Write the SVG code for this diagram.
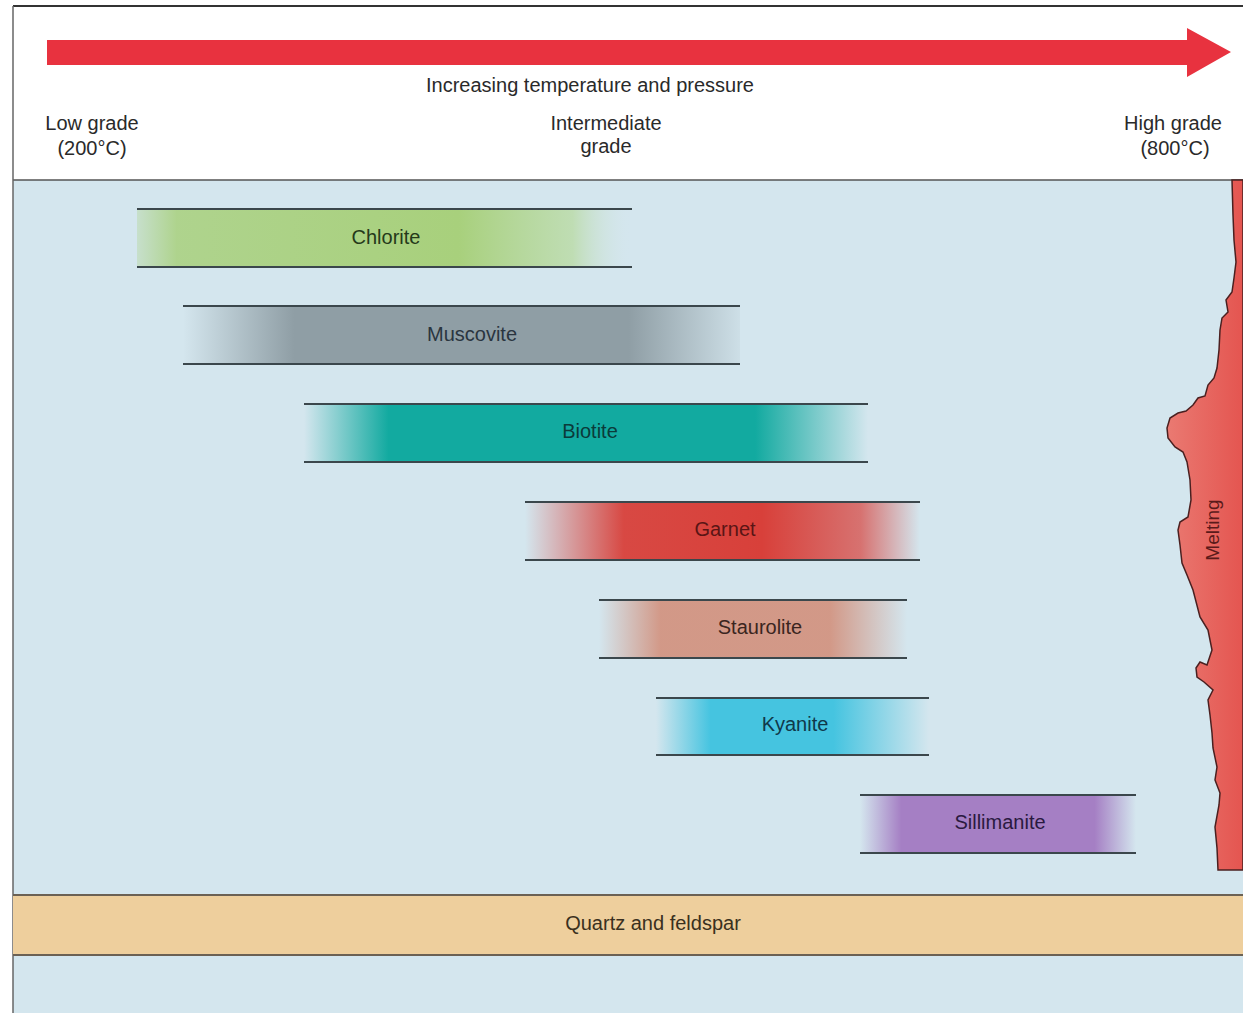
<svg xmlns="http://www.w3.org/2000/svg" width="1243" height="1013" viewBox="0 0 1243 1013">
<style>
text{font-family:"Liberation Sans",Arial,sans-serif;font-size:20px;text-anchor:middle}
.hdr{fill:#2a2a2a}
.edge{stroke:#3b474c;stroke-width:2;fill:none}
.lbl{font-size:20px}
</style>
<defs>
<linearGradient id="gChl" x1="0" x2="1" y1="0" y2="0">
<stop offset="0" stop-color="#a8d07c" stop-opacity="0.3"/>
<stop offset="0.08" stop-color="#a8d07c" stop-opacity="0.85"/>
<stop offset="0.65" stop-color="#a8d07c" stop-opacity="1"/>
<stop offset="0.88" stop-color="#b6d99a" stop-opacity="0.7"/>
<stop offset="1" stop-color="#d4e6ee" stop-opacity="0"/>
</linearGradient>
<linearGradient id="gMus" x1="0" x2="1" y1="0" y2="0">
<stop offset="0" stop-color="#8f9ea5" stop-opacity="0"/>
<stop offset="0.2" stop-color="#8f9ea5" stop-opacity="1"/>
<stop offset="0.8" stop-color="#8f9ea5" stop-opacity="1"/>
<stop offset="1" stop-color="#8f9ea5" stop-opacity="0.1"/>
</linearGradient>
<linearGradient id="gBio" x1="0" x2="1" y1="0" y2="0">
<stop offset="0" stop-color="#12aaa0" stop-opacity="0"/>
<stop offset="0.15" stop-color="#12aaa0" stop-opacity="1"/>
<stop offset="0.8" stop-color="#12aaa0" stop-opacity="1"/>
<stop offset="1" stop-color="#12aaa0" stop-opacity="0"/>
</linearGradient>
<linearGradient id="gGar" x1="0" x2="1" y1="0" y2="0">
<stop offset="0" stop-color="#d8403a" stop-opacity="0"/>
<stop offset="0.25" stop-color="#d8403a" stop-opacity="0.95"/>
<stop offset="0.6" stop-color="#d8403a" stop-opacity="1"/>
<stop offset="0.85" stop-color="#d8403a" stop-opacity="0.7"/>
<stop offset="1" stop-color="#d8403a" stop-opacity="0"/>
</linearGradient>
<linearGradient id="gSta" x1="0" x2="1" y1="0" y2="0">
<stop offset="0" stop-color="#d2907c" stop-opacity="0"/>
<stop offset="0.2" stop-color="#d2907c" stop-opacity="0.9"/>
<stop offset="0.75" stop-color="#d2907c" stop-opacity="0.9"/>
<stop offset="1" stop-color="#d2907c" stop-opacity="0"/>
</linearGradient>
<linearGradient id="gKya" x1="0" x2="1" y1="0" y2="0">
<stop offset="0" stop-color="#45c4e0" stop-opacity="0"/>
<stop offset="0.2" stop-color="#45c4e0" stop-opacity="1"/>
<stop offset="0.65" stop-color="#45c4e0" stop-opacity="1"/>
<stop offset="1" stop-color="#45c4e0" stop-opacity="0"/>
</linearGradient>
<linearGradient id="gSil" x1="0" x2="1" y1="0" y2="0">
<stop offset="0" stop-color="#a57fc4" stop-opacity="0"/>
<stop offset="0.15" stop-color="#a57fc4" stop-opacity="1"/>
<stop offset="0.85" stop-color="#a57fc4" stop-opacity="1"/>
<stop offset="1" stop-color="#a57fc4" stop-opacity="0"/>
</linearGradient>
<linearGradient id="gMelt" x1="0" x2="1" y1="0" y2="0">
<stop offset="0" stop-color="#ea7a72"/>
<stop offset="1" stop-color="#e45550"/>
</linearGradient>
</defs>

<!-- background -->
<rect x="0" y="0" width="1243" height="1013" fill="#ffffff"/>
<rect id="field" x="13" y="180" width="1230" height="833" fill="#d4e6ee"/>
<line x1="13" y1="180" x2="1243" y2="180" stroke="#555" stroke-width="1.5"/>
<line x1="13" y1="6" x2="1243" y2="6" stroke="#333" stroke-width="2"/>
<line x1="13" y1="6" x2="13" y2="1013" stroke="#666" stroke-width="1.5"/>

<!-- header -->
<g id="arrow">
<polygon points="47,40 1187,40 1187,28 1231,52 1187,77 1187,65 47,65" fill="#e8323f"/>
</g>
<g id="header-labels" class="hdr">
<text x="590" y="92">Increasing temperature and pressure</text>
<text x="92" y="130">Low grade</text>
<text x="92" y="155">(200°C)</text>
<text x="606" y="130">Intermediate</text>
<text x="606" y="153">grade</text>
<text x="1173" y="130">High grade</text>
<text x="1175" y="155">(800°C)</text>
</g>

<!-- melting -->
<g id="melting">
<path d="M1232,180 L1243,180 L1243,870 L1218,870 L1217,848 L1215,827 L1219,805 L1220,793 L1215,780 L1217,767 L1213,748 L1212,733 L1210,715 L1208,700 L1213,690 L1204,682 L1197,677 L1196,668 L1200,662 L1207,665 L1212,650 L1208,630 L1200,617 L1193,590 L1187,575 L1182,563 L1180,545 L1178,530 L1180,522 L1188,517 L1191,500 L1190,480 L1187,462 L1183,452 L1175,447 L1168,438 L1167,428 L1170,418 L1178,413 L1186,411 L1193,405 L1198,398 L1205,396 L1208,385 L1214,378 L1217,368 L1219,350 L1220,330 L1222,318 L1228,312 L1226,300 L1232,292 L1234,278 L1236,262 L1234,240 L1233,215 Z" fill="url(#gMelt)" stroke="#4a2020" stroke-width="1.5"/>
<text x="1219" y="530" transform="rotate(-90 1219 530)" style="font-size:19px;fill:#5a1a1a">Melting</text>
</g>

<!-- mineral bars -->
<g id="chlorite">
<rect x="137" y="210" width="495" height="57" fill="url(#gChl)"/>
<line class="edge" x1="137" y1="209" x2="632" y2="209"/>
<line class="edge" x1="137" y1="267" x2="632" y2="267"/>
<text class="lbl" x="386" y="244" fill="#25391a">Chlorite</text>
</g>
<g id="muscovite">
<rect x="183" y="307" width="557" height="57" fill="url(#gMus)"/>
<line class="edge" x1="183" y1="306" x2="740" y2="306"/>
<line class="edge" x1="183" y1="364" x2="740" y2="364"/>
<text class="lbl" x="472" y="341" fill="#2a3540">Muscovite</text>
</g>
<g id="biotite">
<rect x="304" y="405" width="564" height="57" fill="url(#gBio)"/>
<line class="edge" x1="304" y1="404" x2="868" y2="404"/>
<line class="edge" x1="304" y1="462" x2="868" y2="462"/>
<text class="lbl" x="590" y="438" fill="#0b3b3a">Biotite</text>
</g>
<g id="garnet">
<rect x="525" y="503" width="395" height="57" fill="url(#gGar)"/>
<line class="edge" x1="525" y1="502" x2="920" y2="502"/>
<line class="edge" x1="525" y1="560" x2="920" y2="560"/>
<text class="lbl" x="725" y="536" fill="#5a1515">Garnet</text>
</g>
<g id="staurolite">
<rect x="599" y="601" width="308" height="57" fill="url(#gSta)"/>
<line class="edge" x1="599" y1="600" x2="907" y2="600"/>
<line class="edge" x1="599" y1="658" x2="907" y2="658"/>
<text class="lbl" x="760" y="634" fill="#3a2520">Staurolite</text>
</g>
<g id="kyanite">
<rect x="656" y="699" width="273" height="56" fill="url(#gKya)"/>
<line class="edge" x1="656" y1="698" x2="929" y2="698"/>
<line class="edge" x1="656" y1="755" x2="929" y2="755"/>
<text class="lbl" x="795" y="731" fill="#10384a">Kyanite</text>
</g>
<g id="sillimanite">
<rect x="860" y="796" width="276" height="57" fill="url(#gSil)"/>
<line class="edge" x1="860" y1="795" x2="1136" y2="795"/>
<line class="edge" x1="860" y1="853" x2="1136" y2="853"/>
<text class="lbl" x="1000" y="829" fill="#2a1a40">Sillimanite</text>
</g>

<!-- quartz and feldspar -->
<g id="quartz-feldspar">
<rect x="13" y="895" width="1230" height="60" fill="#eecf9d"/>
<line x1="13" y1="895" x2="1243" y2="895" stroke="#6b6154" stroke-width="2"/>
<line x1="13" y1="955" x2="1243" y2="955" stroke="#6b6154" stroke-width="2"/>
<text x="653" y="930" fill="#3a3020">Quartz and feldspar</text>
</g>
</svg>
